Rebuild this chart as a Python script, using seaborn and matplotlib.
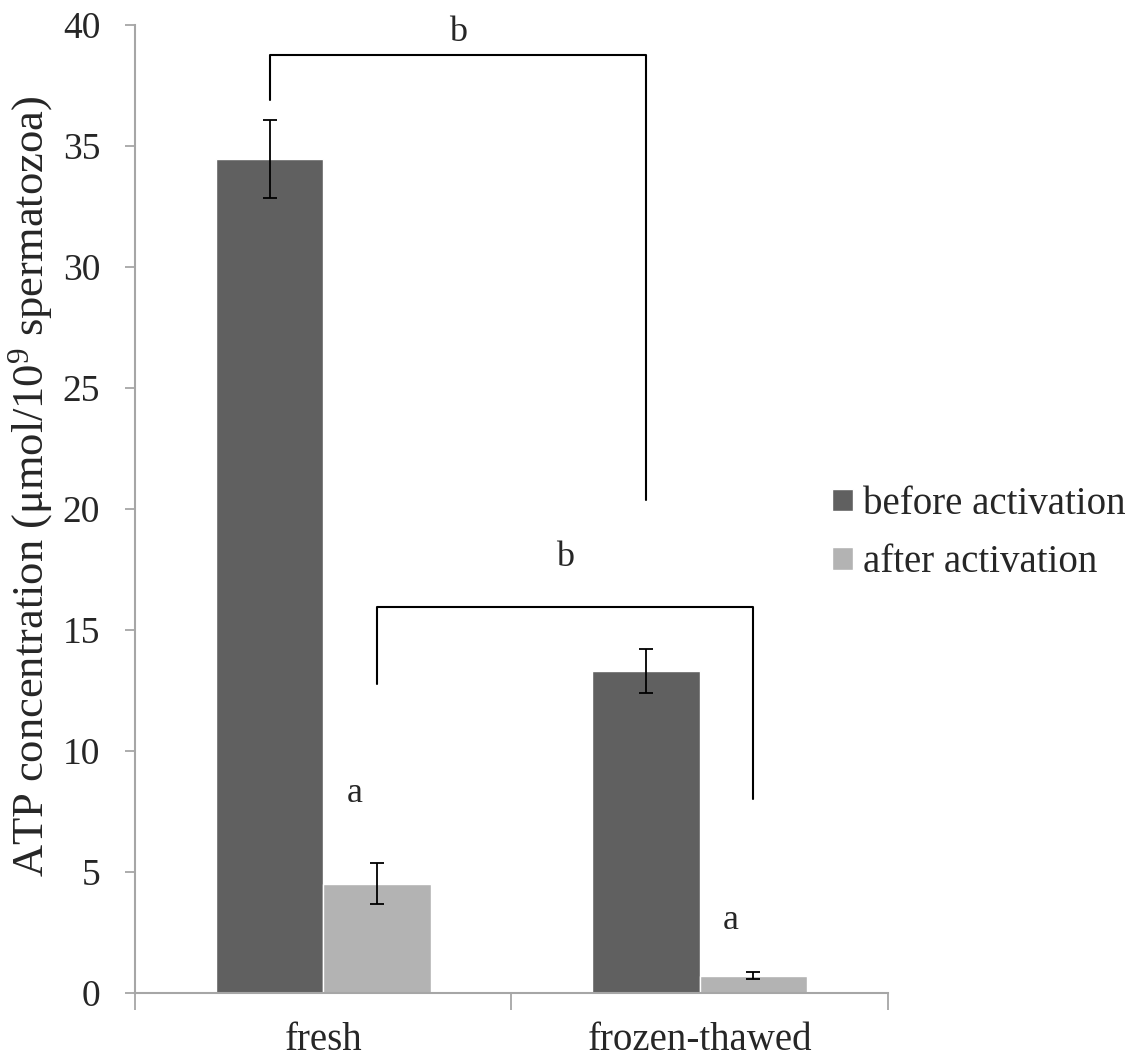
import matplotlib
matplotlib.use("Agg")
import matplotlib.pyplot as plt
import seaborn as sns
import pandas as pd

# values
samples = ["fresh", "frozen-thawed"]
states = ["before activation", "after activation"]
atp_before = [34.45, 13.3]
atp_after = [4.52, 0.72]
err_before = [1.6, 0.92]
err_after = [0.84, 0.15]
colors = ["#606060", "#b3b3b3"]

# significance brackets: (state, top, left leg end, right leg end, label height, label)
brackets = [
    ("before activation", 38.75, 36.9, 20.35, 39.7, "b"),
    ("after activation", 15.95, 12.75, 8.0, 18.0, "b"),
]
letter_a = [8.26, 3.0]

df = pd.DataFrame({
    "sample": samples * 2,
    "state": [states[0]] * 2 + [states[1]] * 2,
    "atp": atp_before + atp_after,
})
errs = {states[0]: err_before, states[1]: err_after}

sns.set_style("white")
plt.rcParams["font.family"] = ["Liberation Serif", "DejaVu Serif"]
plt.rcParams["mathtext.fontset"] = "custom"
plt.rcParams["mathtext.rm"] = "Liberation Serif"
plt.rcParams["mathtext.it"] = "Liberation Serif:italic"

fig = plt.figure(figsize=(11.37, 10.63), dpi=100)
ax = fig.add_axes([0.1187, 0.0659, 0.6623, 0.9107])

sns.barplot(data=df, x="sample", y="atp", hue="state", order=samples,
            hue_order=states, palette=colors, width=0.57, errorbar=None,
            saturation=1, ax=ax)

# error bars and bar centres per state
centres = {}
for cont, st in zip(ax.containers, states):
    xs = [b.get_x() + b.get_width() / 2 for b in cont]
    ys = [b.get_height() for b in cont]
    centres[st] = xs
    ax.errorbar(xs, ys, yerr=errs[st], fmt="none", ecolor="black",
                elinewidth=1.3, capsize=4.7, capthick=1.3)

for st, top, lend, rend, ty, lab in brackets:
    x0, x1 = centres[st]
    ax.plot([x0, x0, x1, x1], [lend, top, top, rend], color="black", lw=1.5)
    ax.text((x0 + x1) / 2, ty, lab, ha="center", va="center", fontsize=26)

for x, y in zip(centres[states[1]], letter_a):
    ax.text(x - 0.06, y, "a", ha="center", va="center", fontsize=26)

ax.set_xlim(-0.5, 1.5)
ax.set_ylim(0, 40)
ax.set_yticks(range(0, 41, 5))
ax.set_xlabel("")
ax.set_ylabel(r"ATP concentration (μmol/10$^{9}$ spermatozoa)", fontsize=32)
ax.yaxis.set_label_coords(-0.106, 0.523)

for s in ["top", "right"]:
    ax.spines[s].set_visible(False)
for s in ["left", "bottom"]:
    ax.spines[s].set_color("#a6a6a6")
    ax.spines[s].set_linewidth(1.5)

ax.tick_params(axis="y", which="major", direction="out", length=7, width=1.3,
               color="#a6a6a6", labelsize=27, pad=18, left=True)
ax.tick_params(axis="x", which="major", length=0, labelsize=28, pad=21)
ax.set_xticks([-0.5, 0.5, 1.5], minor=True)
ax.tick_params(axis="x", which="minor", direction="out", length=12, width=1.3,
               color="#a6a6a6", bottom=True)

handles, labels = ax.get_legend_handles_labels()
ax.legend(handles, labels, loc="center left", bbox_to_anchor=(0.732, 0.498),
          bbox_transform=fig.transFigure, frameon=False, fontsize=28,
          handlelength=0.52, handleheight=0.52, handletextpad=0.26,
          labelspacing=0.55, borderaxespad=0, borderpad=0)

fig.savefig("out.png", dpi=100)
